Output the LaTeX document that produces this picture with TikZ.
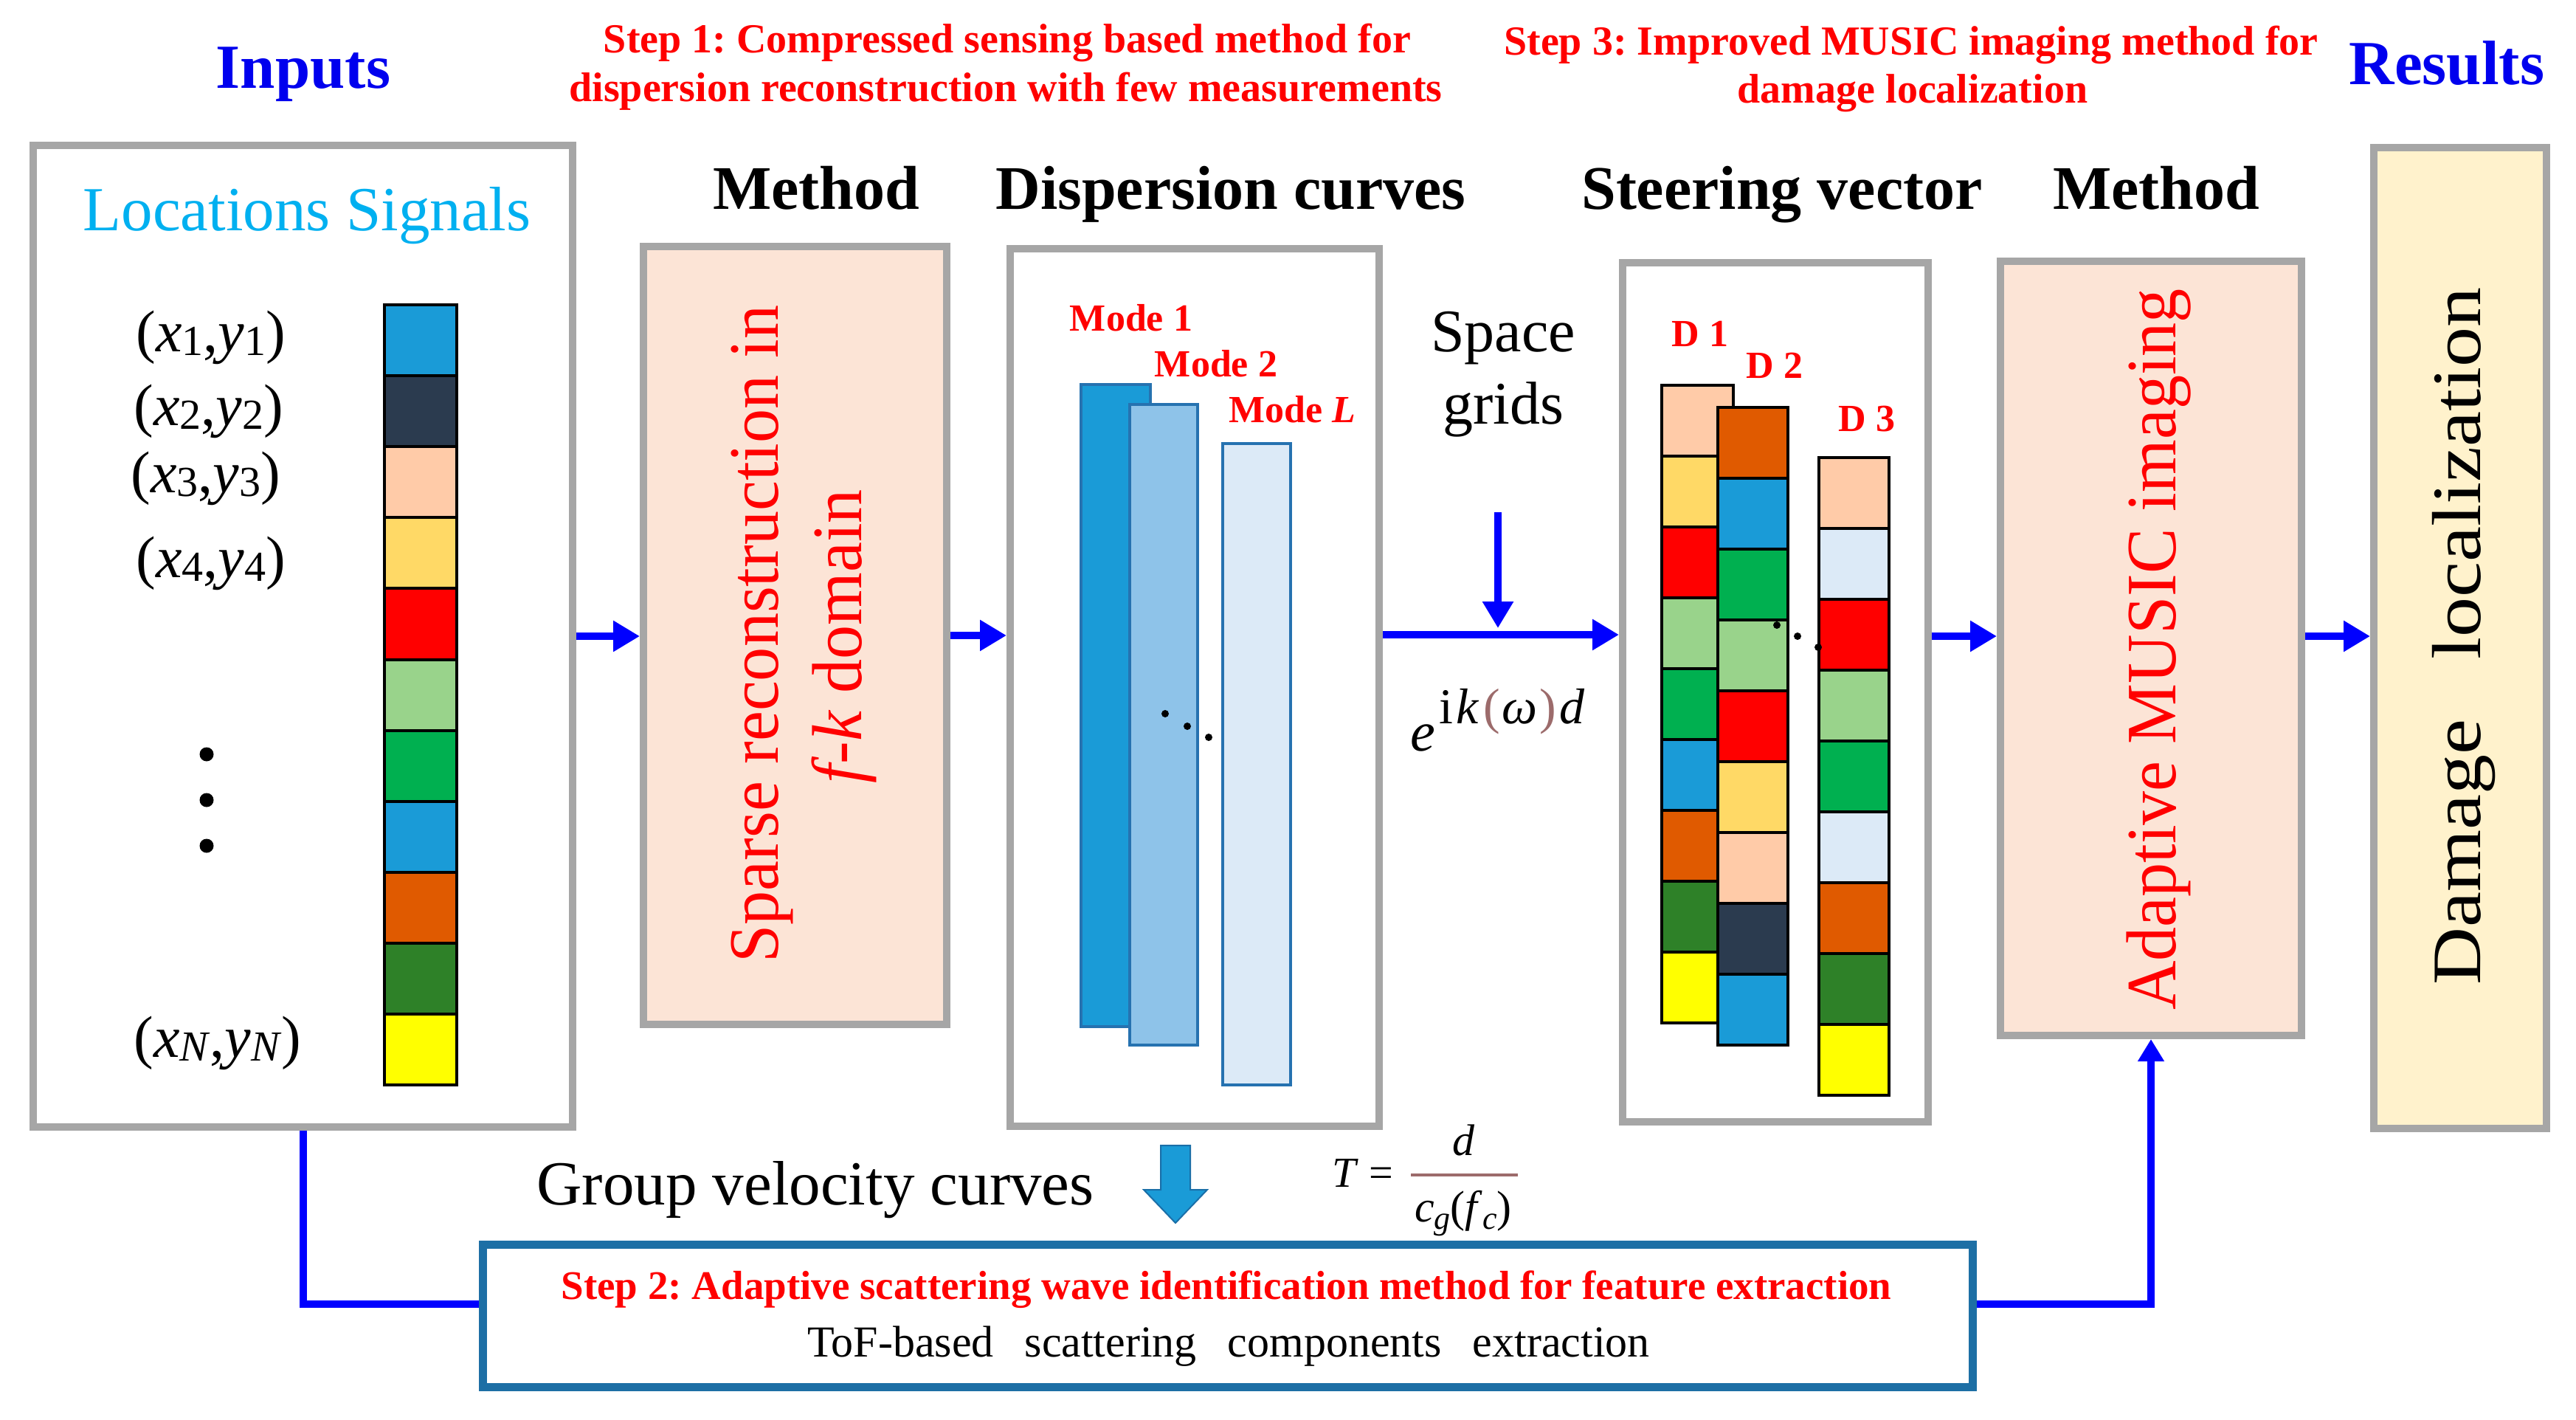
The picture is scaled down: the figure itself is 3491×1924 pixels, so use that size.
\documentclass[tikz,border=0pt]{standalone}
\usepackage{fontspec}
\setmainfont{Liberation Serif}
\usetikzlibrary{arrows.meta,calc}
\frenchspacing
\definecolor{boxgray}{HTML}{A6A6A6}
\definecolor{peachbg}{HTML}{FCE4D6}
\definecolor{creambg}{HTML}{FFF2CC}
\definecolor{arrblue}{HTML}{0000FF}
\definecolor{titleblue}{HTML}{0000EE}
\definecolor{stepred}{HTML}{FF0000}
\definecolor{cyantxt}{HTML}{00B0F0}
\definecolor{stepframe}{HTML}{1D6FA5}
\definecolor{cBlue}{HTML}{1A9BD7}
\definecolor{cNavy}{HTML}{2B3B4F}
\definecolor{cPeach}{HTML}{FFCBA8}
\definecolor{cGold}{HTML}{FFD966}
\definecolor{cRed}{HTML}{FF0000}
\definecolor{cLgreen}{HTML}{99D38B}
\definecolor{cGreen}{HTML}{00B050}
\definecolor{cOrange}{HTML}{E05A00}
\definecolor{cDgreen}{HTML}{2E8128}
\definecolor{cYellow}{HTML}{FFFF00}
\definecolor{cPale}{HTML}{DCEAF7}
\definecolor{modeEdge}{HTML}{2672B0}
\definecolor{modeTwo}{HTML}{8EC3E9}
\definecolor{brn}{HTML}{9C6B6B}
\definecolor{gvEdge}{HTML}{1A6FA8}
\newcommand\fsz[1]{\fontsize{#1}{#1}\selectfont}
\newcommand\loc[2]{(\textit{x}\raisebox{-5pt}{\fsz{58}#1},\textit{y}\raisebox{-5pt}{\fsz{58}#2})}
\begin{document}
\begin{tikzpicture}[x=1pt,y=-1pt,
  gbox/.style={draw=boxgray, line width=10pt, inner sep=0pt},
  arr/.style={draw=arrblue, line width=10pt, -{Triangle[length=36pt,width=40pt]}},
  bline/.style={draw=arrblue, line width=10pt},
  cell/.style={draw=black, line width=4pt},
  modebar/.style={draw=modeEdge, line width=4pt},
  txt/.style={inner sep=0pt, anchor=base},
  title/.style={txt, text=titleblue, font={\bfseries\fsz{85}}},
  steptxt/.style={txt, text=stepred, font={\bfseries\fsz{56}}},
  head/.style={txt, font={\bfseries\fsz{84}}},
  lbl/.style={inner sep=0pt, text=stepred, font={\bfseries\fsz{52}}},
  loclbl/.style={inner sep=0pt, font={\fsz{80}}},
  vtxt/.style={inner sep=0pt, anchor=base, rotate=90}
]
\useasboundingbox[fill=white] (0,0) rectangle (3491,1924);

% titles
\node[title] (tin) at (411,120) {Inputs};
\node[title] (tres) at (3316,115) {Results};
\node[steptxt] (s1a) at (1365,72) {Step 1: Compressed sensing based method for};
\node[steptxt] (s1b) at (1363,138) {dispersion reconstruction with few measurements};
\node[steptxt] (s3a) at (2590,75) {Step 3: Improved MUSIC imaging method for};
\node[steptxt] (s3b) at (2592,140) {damage localization};
\node[head] (h1) at (1106,283) {Method};
\node[head] (h2) at (1668,283) {Dispersion curves};
\node[head] (h3) at (2415,283) {Steering vector};
\node[head] (h4) at (2922,283) {Method};

% boxes
\node[gbox, fill=white, minimum width=731pt, minimum height=1330pt] (inputs) at (410.5,862) {};
\node[gbox, fill=peachbg, minimum width=411pt, minimum height=1054pt] (sparse) at (1077.5,861) {};
\node[gbox, fill=white, minimum width=500pt, minimum height=1189pt] (disp) at (1619,931.5) {};
\node[gbox, fill=white, minimum width=414pt, minimum height=1164pt] (steer) at (2406,938) {};
\node[gbox, fill=peachbg, minimum width=408pt, minimum height=1049pt] (music) at (2915,878.5) {};
\node[gbox, fill=creambg, minimum width=234pt, minimum height=1329pt] (damage) at (3334,864.5) {};
\node[draw=stepframe, line width=11pt, fill=white, minimum width=2019pt, minimum height=193pt, inner sep=0pt] (step2) at (1664,1783) {};

% inputs content
\node[txt, text=cyantxt, font={\fsz{85}}] (locsig) at (416,312) {Locations Signals};
\node[loclbl] (l1) at (286,457) {\loc{1}{1}};
\node[loclbl] (l2) at (283,557) {\loc{2}{2}};
\node[loclbl] (l3) at (279,648) {\loc{3}{3}};
\node[loclbl] (l4) at (286,763) {\loc{4}{4}};
\node[loclbl] (lN) at (295,1413) {\loc{\textit{N}}{\textit{N}}};
\fill (280,1022) circle (9.5pt) (280,1084) circle (9.5pt) (280,1146) circle (9.5pt);
\foreach \c [count=\i from 0] in {cBlue,cNavy,cPeach,cGold,cRed,cLgreen,cGreen,cBlue,cOrange,cDgreen,cYellow}
  \draw[cell, fill=\c] (521,{413+\i*96.1}) rectangle (619,{413+(\i+1)*96.1});

% sparse text
\node[vtxt, text=stepred, font={\fsz{96}}] (sp1) at (1054,859) {\scalebox{0.96}[1]{Sparse reconstruction in}};
\node[vtxt, text=stepred, font={\fsz{96}}] (sp2) at (1167,862) {\scalebox{0.96}[1]{\textit{f-k} domain}};

% dispersion content
\draw[modebar, fill=cBlue] (1465,521) rectangle (1559,1391);
\draw[modebar, fill=modeTwo] (1531,548) rectangle (1623,1416);
\draw[modebar, fill=cPale] (1657,601) rectangle (1749,1470);
\node[lbl] (m1) at (1533,431) {Mode 1};
\node[lbl] (m2) at (1648,493) {Mode 2};
\node[lbl] (mL) at (1751,555) {Mode \textit{L}};
\fill (1579,967) circle (5pt) (1609,984) circle (5pt) (1638,999) circle (5pt);

% space grids
\node[txt, font={\fsz{82}}] (sp) at (2037,476) {Space};
\node[txt, font={\fsz{82}}] (gr) at (2037,574) {grids};
\node[inner sep=0pt, anchor=base west, font={\fsz{76}}] (expr) at (1911,1017)
  {\textit{e}\kern6pt\raisebox{37pt}{\fsz{68}i\kern4pt\textit{k}\kern5pt{\color{brn}(}\kern3pt\textit{ω}\kern3pt{\color{brn})}\kern4pt\textit{d}}};

% steering content
\foreach \c [count=\i from 0] in {cPeach,cGold,cRed,cLgreen,cGreen,cBlue,cOrange,cDgreen,cYellow}
  \draw[cell, fill=\c] (2252,{522+\i*96}) rectangle (2349,{522+(\i+1)*96});
\foreach \c [count=\i from 0] in {cOrange,cBlue,cGreen,cLgreen,cRed,cGold,cPeach,cNavy,cBlue}
  \draw[cell, fill=\c] (2328,{552+\i*96}) rectangle (2423,{552+(\i+1)*96});
\foreach \c [count=\i from 0] in {cPeach,cPale,cRed,cLgreen,cGreen,cPale,cOrange,cDgreen,cYellow}
  \draw[cell, fill=\c] (2465,{620+\i*96}) rectangle (2560,{620+(\i+1)*96});
\node[lbl] (d1) at (2304,452) {D 1};
\node[lbl] (d2) at (2405,495) {D 2};
\node[lbl] (d3) at (2530,568) {D 3};
\fill (2408,847) circle (5pt) (2436,862) circle (5pt) (2464,877) circle (5pt);

% method 2 and result text
\node[vtxt, text=stepred, font={\fsz{96}}] (mus) at (2948,880) {\scalebox{0.96}[1]{Adaptive MUSIC imaging}};
\node[vtxt, font={\fsz{94}}] (dmg) at (3361,862) {\scalebox{1.15}[1]{Damage\hspace{70pt}localization}};

% bottom texts
\node[txt, font={\fsz{85}}] (gv) at (1105,1632) {Group velocity curves};
\draw[fill=cBlue, draw=gvEdge, line width=2pt] (1573,1552) -- (1613,1552) -- (1613,1612) -- (1636,1612) -- (1593,1657) -- (1550,1612) -- (1573,1612) -- cycle;
\node[inner sep=0pt, anchor=base west, font={\fsz{58}}] (tq) at (1805,1608) {\textit{T} =};
\node[inner sep=0pt, anchor=base, font={\fsz{60}}] (tnum) at (1984,1565) {\textit{d}};
\draw[brn, line width=4pt] (1912,1592) -- (2057,1592);
\node[inner sep=0pt, anchor=base, font={\fsz{60}}] (tden) at (1983,1655) {\textit{c}\raisebox{-10pt}{\fsz{44}\textit{g}}(\textit{f}\raisebox{-10pt}{\fsz{44}\textit{c}})};
\node[steptxt, font={\bfseries\fsz{55}}] (s2a) at (1662,1760) {Step 2: Adaptive scattering wave identification method for feature extraction};
\node[txt, font={\fsz{60}}] (s2b) at (1665,1838) {ToF-based\hspace{27pt} scattering\hspace{27pt} components\hspace{27pt} extraction};

% connectors
\coordinate (sg) at (2030,860);
\coordinate (sgtop) at (2030,694);
\coordinate (sgtip) at (2030,851);
\coordinate (row) at (0,862);
\coordinate (br) at (0,1767);
\draw[arr] (inputs.east) -- (inputs.east -| sparse.west);
\draw[arr] (sparse.east) -- (sparse.east -| disp.west);
\draw[arr] (disp.east |- sg) -- (steer.west |- sg);
\draw[arr] (sgtop) -- (sgtip);
\draw[arr] (steer.east |- row) -- (music.west |- row);
\draw[arr] (music.east |- row) -- (damage.west |- row);
\draw[bline] (inputs.south) |- (step2.west |- br);
\draw[draw=arrblue, line width=10pt, -{Triangle[length=30pt,width=34pt]}] (step2.east |- br) -| (music.south);
\end{tikzpicture}
\end{document}
